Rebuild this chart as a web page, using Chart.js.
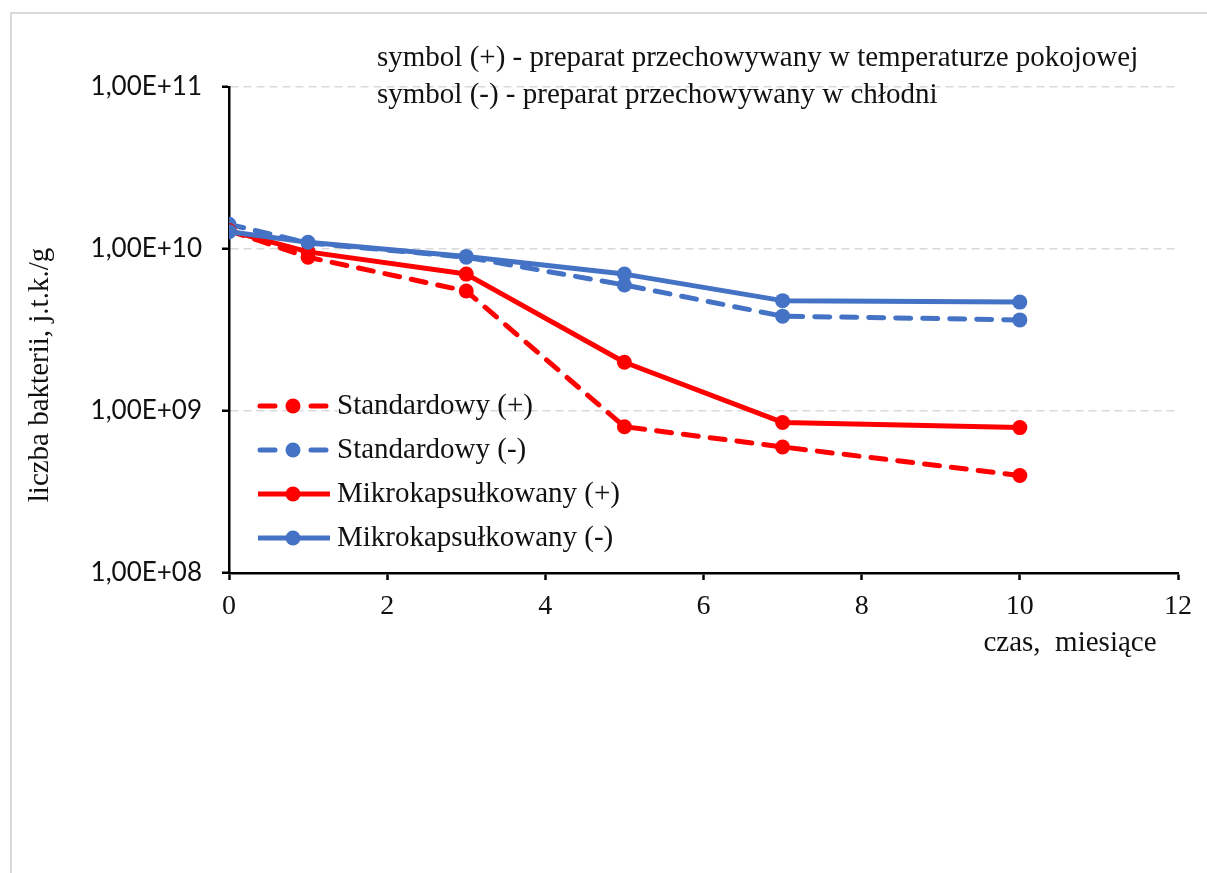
<!DOCTYPE html>
<html>
<head>
<meta charset="utf-8">
<script src="https://cdn.jsdelivr.net/npm/chart.js@4/dist/chart.umd.min.js"></script>
<style>
	html, body { margin: 0; padding: 0; background: #fff; }
	.wrap { position: relative; width: 1207px; height: 873px; overflow: hidden; }
	.frame {
		position: absolute; left: 10px; top: 12px; width: 1300px; height: 1000px;
		border: 2px solid #d9d9d9; box-sizing: border-box;
	}
	canvas { position: absolute; left: 0; top: 0; }
</style>
</head>
<body>
<div class="wrap">
	<div class="frame"></div>
	<canvas id="chart" width="1207" height="873"></canvas>
</div>
<script>
// months of storage
const months = [0, 1, 3, 5, 7, 10];

// bacteria count, cfu/g
const standardPlus = [1.3e10, 8.9e9, 5.5e9, 8.0e8, 6.0e8, 4.0e8];
const standardMinus = [1.42e10, 1.09e10, 8.9e9, 6.0e9, 3.85e9, 3.65e9];
const microPlus = [1.3e10, 9.6e9, 7.0e9, 2.0e9, 8.5e8, 7.9e8];
const microMinus = [1.28e10, 1.1e10, 9.0e9, 7.0e9, 4.8e9, 4.7e9];

const seriesNames = [
	"Standardowy (+)",
	"Standardowy (-)",
	"Mikrokapsułkowany (+)",
	"Mikrokapsułkowany (-)"
];

const yTickValues = [1e8, 1e9, 1e10, 1e11];
const yTickLabels = ["1,00E+08", "1,00E+09", "1,00E+10", "1,00E+11"];

const noteLines = [
	"symbol (+) - preparat przechowywany w temperaturze pokojowej",
	"symbol (-) - preparat przechowywany w chłodni"
];
const xTitle = "czas,  miesiące";
const yTitle = "liczba bakterii, j.t.k./g";

const RED = "#ff0000";
const BLUE = "#4472c4";
const SERIF = "'Liberation Serif', 'Times New Roman', serif";

const toPoints = values => values.map((v, i) => ({ x: months[i], y: v }));

const makeDataset = (label, values, color, dashed, order) => ({
	label,
	data: toPoints(values),
	borderColor: color,
	backgroundColor: color,
	borderWidth: 5,
	borderDash: dashed ? [15, 12] : [],
	borderCapStyle: dashed ? "round" : "butt",
	borderJoinStyle: "round",
	pointRadius: 7.5,
	pointBorderWidth: 0,
	pointBackgroundColor: color,
	tension: 0,
	fill: false,
	order
});

// custom texts and legend drawn inside the plot like in the original
const decorations = {
	id: "decorations",
	afterDraw(chart) {
		const ctx = chart.ctx;
		ctx.save();
		ctx.fillStyle = "#111";
		ctx.font = `29px ${SERIF}`;
		ctx.textBaseline = "middle";
		ctx.textAlign = "left";
		ctx.fillText(noteLines[0], 377, 58);
		ctx.fillText(noteLines[1], 377, 95);

		ctx.textAlign = "center";
		ctx.fillText(xTitle, 1070, 643);

		ctx.save();
		ctx.translate(40, 375);
		ctx.rotate(-Math.PI / 2);
		ctx.fillText(yTitle, 0, 0);
		ctx.restore();

		// legend
		const rows = [406, 450, 494, 538];
		chart.data.datasets.forEach((ds, i) => {
			const y = rows[i];
			ctx.strokeStyle = ds.borderColor;
			ctx.lineWidth = ds.borderWidth;
			if (ds.borderDash.length) {
				ctx.lineCap = "round";
				ctx.beginPath();
				ctx.moveTo(260, y);
				ctx.lineTo(275, y);
				ctx.moveTo(311, y);
				ctx.lineTo(326, y);
				ctx.stroke();
			} else {
				ctx.lineCap = "butt";
				ctx.beginPath();
				ctx.moveTo(258, y);
				ctx.lineTo(330, y);
				ctx.stroke();
			}
			ctx.fillStyle = ds.borderColor;
			ctx.beginPath();
			ctx.arc(293, y, 7.5, 0, Math.PI * 2);
			ctx.fill();
			ctx.fillStyle = "#111";
			ctx.textAlign = "left";
			ctx.fillText(seriesNames[i], 337, y);
		});
		ctx.restore();
	}
};

new Chart(document.getElementById("chart"), {
	type: "line",
	data: {
		datasets: [
			makeDataset(seriesNames[0], standardPlus, RED, true, 4),
			makeDataset(seriesNames[1], standardMinus, BLUE, true, 3),
			makeDataset(seriesNames[2], microPlus, RED, false, 2),
			makeDataset(seriesNames[3], microMinus, BLUE, false, 1)
		]
	},
	options: {
		responsive: false,
		animation: false,
		devicePixelRatio: 1,
		layout: {
			padding: { left: 0, top: 87, right: 29, bottom: 0 }
		},
		plugins: {
			legend: { display: false },
			tooltip: { enabled: false }
		},
		scales: {
			x: {
				type: "linear",
				min: 0,
				max: 12,
				afterFit(scale) {
					scale.height = 300;
				},
				ticks: {
					stepSize: 2,
					padding: 10,
					color: "#111",
					font: { family: SERIF, size: 28 }
				},
				grid: {
					drawOnChartArea: false,
					drawTicks: true,
					tickLength: 7,
					tickColor: "#000",
					tickWidth: 2.5
				},
				border: { color: "#000", width: 2.5 }
			},
			y: {
				type: "logarithmic",
				min: 1e8,
				max: 1e11,
				afterFit(scale) {
					scale.width = 229;
				},
				afterBuildTicks(scale) {
					scale.ticks = yTickValues.map(v => ({ value: v }));
				},
				ticks: {
					padding: 20,
					color: "#111",
					font: { family: "Lato, 'Open Sans', sans-serif", size: 26 },
					callback(value) {
						const i = yTickValues.indexOf(value);
						return i >= 0 ? yTickLabels[i] : "";
					}
				},
				grid: {
					color: "#d9d9d9",
					lineWidth: 1.5,
					drawTicks: true,
					tickLength: 7,
					tickColor: "#000",
					tickWidth: 2.5
				},
				border: { color: "#000", width: 2.5, dash: [8, 5] }
			}
		}
	},
	plugins: [decorations]
});
</script>
</body>
</html>
